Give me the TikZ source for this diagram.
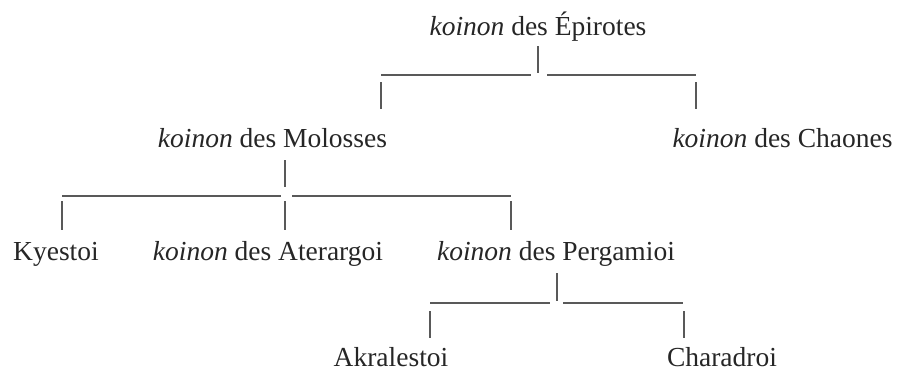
\documentclass[tikz,border=0pt]{standalone}
\usepackage{fontspec}
\setmainfont{Liberation Serif}
\begin{document}
\begin{tikzpicture}[x=1pt,y=-1pt,
  lbl/.style={anchor=base,inner sep=0pt,font=\fontsize{27.5}{30}\selectfont,text=black!85},
  seg/.style={draw=black!65,line width=1.1pt}]
\useasboundingbox (0,0) rectangle (899,372);
% texts
\node[lbl] (epi) at (538,35) {\textit{koinon} des Épirotes};
\node[lbl] (mol) at (272.5,147) {\textit{koinon} des Molosses};
\node[lbl] (cha) at (782.5,147) {\textit{koinon} des Chaones};
\node[lbl] (kye) at (56,260) {Kyestoi};
\node[lbl] (ate) at (268,260) {\textit{koinon} des Aterargoi};
\node[lbl] (per) at (556,260) {\textit{koinon} des Pergamioi};
\node[lbl] (akr) at (391,366) {Akralestoi};
\node[lbl] (chr) at (722,366) {Charadroi};
% level 1
\coordinate (a1) at (538,46);  \coordinate (a2) at (538,73);
\coordinate (a3) at (381,75);  \coordinate (a4) at (531,75);
\coordinate (a5) at (547,75);  \coordinate (a6) at (696,75);
\coordinate (a7) at (381,82);  \coordinate (a8) at (381,109);
\coordinate (a9) at (696,82);  \coordinate (a10) at (696,109);
\draw[seg] (a1) -- (a2);
\draw[seg] (a3) -- (a4);
\draw[seg] (a5) -- (a6);
\draw[seg] (a7) -- (a8);
\draw[seg] (a9) -- (a10);
% level 2
\coordinate (b1) at (285,160); \coordinate (b2) at (285,187);
\coordinate (b3) at (62,196);  \coordinate (b4) at (281,196);
\coordinate (b5) at (292,196); \coordinate (b6) at (511,196);
\coordinate (b7) at (62,201);  \coordinate (b8) at (62,230);
\coordinate (b9) at (285,201); \coordinate (b10) at (285,230);
\coordinate (b11) at (511,201); \coordinate (b12) at (511,230);
\draw[seg] (b1) -- (b2);
\draw[seg] (b3) -- (b4);
\draw[seg] (b5) -- (b6);
\draw[seg] (b7) -- (b8);
\draw[seg] (b9) -- (b10);
\draw[seg] (b11) -- (b12);
% level 3
\coordinate (c1) at (557,273); \coordinate (c2) at (557,301);
\coordinate (c3) at (430,303); \coordinate (c4) at (550,303);
\coordinate (c5) at (563,303); \coordinate (c6) at (683,303);
\coordinate (c7) at (430,311); \coordinate (c8) at (430,338);
\coordinate (c9) at (684,311); \coordinate (c10) at (684,338);
\draw[seg] (c1) -- (c2);
\draw[seg] (c3) -- (c4);
\draw[seg] (c5) -- (c6);
\draw[seg] (c7) -- (c8);
\draw[seg] (c9) -- (c10);
\end{tikzpicture}
\end{document}
